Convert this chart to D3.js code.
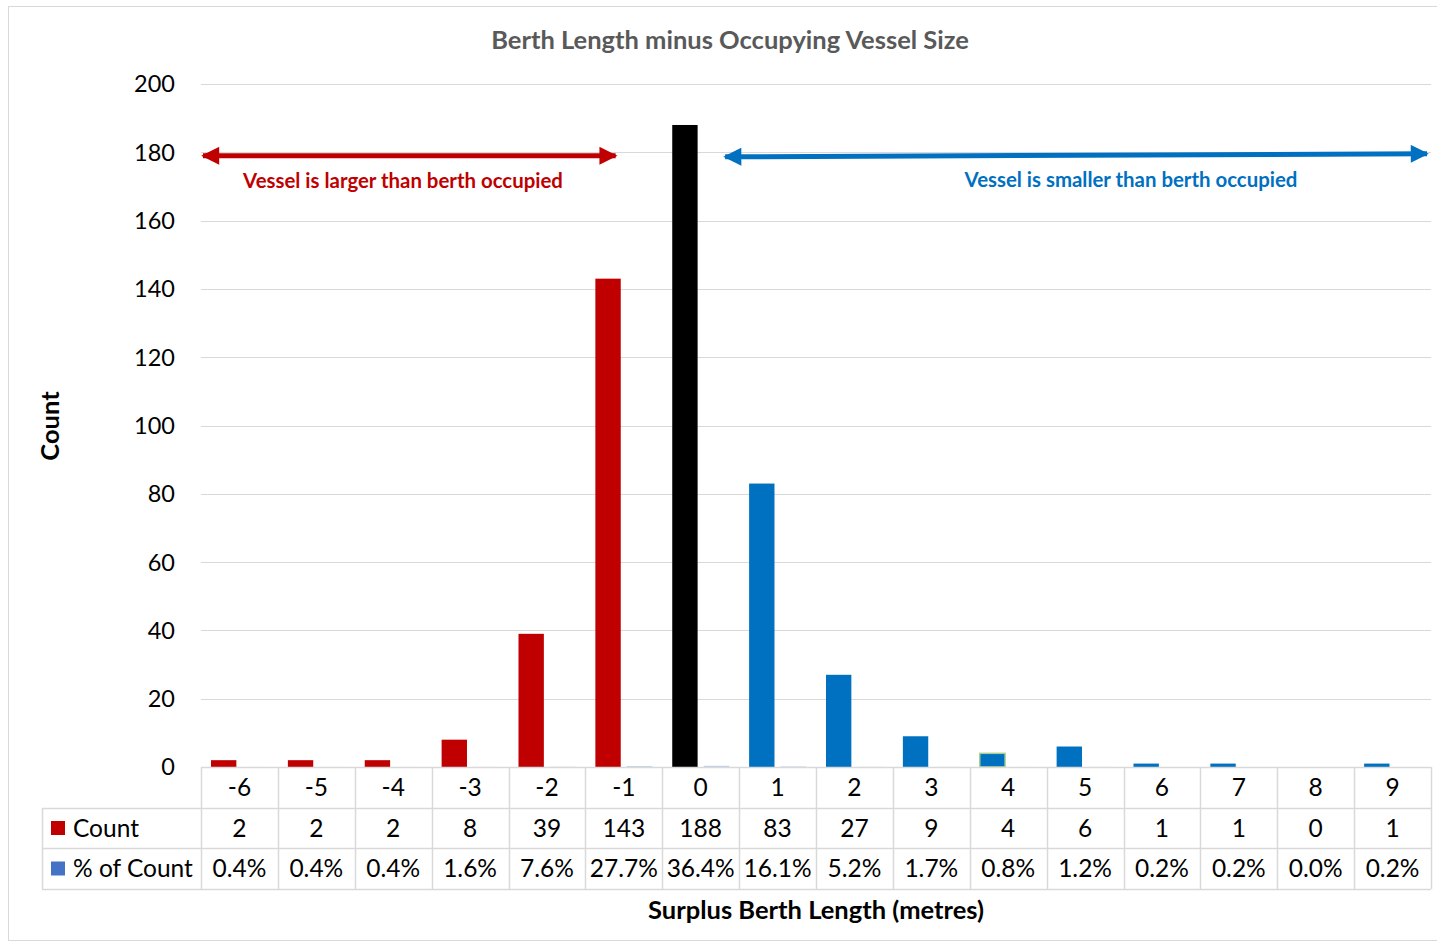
<!DOCTYPE html>
<html lang="en">
  <head>
    <meta charset="UTF-8" />
    <title>Berth Length minus Occupying Vessel Size</title>
    <script src="https://d3js.org/d3.v7.min.js" charset="utf-8"></script>
    <style>
      body { margin: 0; background: #fff; }
      text { font-family: Lato, "Open Sans", sans-serif; }
    </style>
  </head>
  <body>
    <svg class="chart"></svg>
    <script>
      let categories = [-6, -5, -4, -3, -2, -1, 0, 1, 2, 3, 4, 5, 6, 7, 8, 9];
      let counts = [2, 2, 2, 8, 39, 143, 188, 83, 27, 9, 4, 6, 1, 1, 0, 1];
      let pctLabels = ["0.4%", "0.4%", "0.4%", "1.6%", "7.6%", "27.7%", "36.4%", "16.1%",
                       "5.2%", "1.7%", "0.8%", "1.2%", "0.2%", "0.2%", "0.0%", "0.2%"];
      let pctValues = [0.004, 0.004, 0.004, 0.016, 0.076, 0.277, 0.364, 0.161,
                       0.052, 0.017, 0.008, 0.012, 0.002, 0.002, 0.0, 0.002];
      let yTicks = [0, 20, 40, 60, 80, 100, 120, 140, 160, 180, 200];

      let width = 1437;
      let height = 942;
      let plotL = 201, plotR = 1431, plotT = 84, plotB = 767;
      let rowH = 40.5;
      let grid = "#d9d9d9";

      let svg = d3.select(".chart").attr("width", width).attr("height", height);

      svg.append("rect")
        .attr("x", 8.5).attr("y", 6.5)
        .attr("width", 1440).attr("height", 934)
        .attr("fill", "none").attr("stroke", grid);

      let x = d3.scaleBand().domain(categories).range([plotL, plotR]);
      let y = d3.scaleLinear().domain([0, 200]).range([plotB, plotT]);
      let bw = x.bandwidth();

      // gridlines + tick labels
      svg.append("g").selectAll("line")
        .data(yTicks.slice(1))
        .join("line")
        .attr("x1", plotL).attr("x2", plotR)
        .attr("y1", d => Math.round(y(d)) + 0.5)
        .attr("y2", d => Math.round(y(d)) + 0.5)
        .attr("stroke", grid);

      svg.append("g").selectAll("text")
        .data(yTicks)
        .join("text")
        .attr("x", 175)
        .attr("y", d => y(d))
        .attr("dy", "0.36em")
        .attr("text-anchor", "end")
        .attr("font-size", 23.5)
        .attr("fill", "#000")
        .text(d => d);

      // count bars
      function barColor(d) {
        if (d < 0) return "#c00000";
        if (d === 0) return "#000000";
        return "#0070c0";
      }
      svg.append("g").selectAll("rect")
        .data(categories)
        .join("rect")
        .attr("x", d => x(d) + 0.13 * bw)
        .attr("width", 0.33 * bw)
        .attr("y", (d, i) => y(counts[i]))
        .attr("height", (d, i) => plotB - y(counts[i]))
        .attr("fill", barColor)
        .attr("stroke", d => (d === 4 ? "#a9d08e" : "none"))
        .attr("stroke-width", 1.5);

      // % of count bars (tiny on this scale)
      svg.append("g").selectAll("rect")
        .data(categories)
        .join("rect")
        .attr("x", d => x(d) + 0.54 * bw)
        .attr("width", 0.33 * bw)
        .attr("y", (d, i) => y(pctValues[i]))
        .attr("height", (d, i) => plotB - y(pctValues[i]))
        .attr("fill", "#4472c4")
        .attr("opacity", 0.35);

      // data table
      let table = svg.append("g");
      let rows = [plotB, plotB + rowH, plotB + 2 * rowH, plotB + 3 * rowH].map(Math.round);
      table.append("line")
        .attr("x1", plotL).attr("x2", plotR)
        .attr("y1", rows[0] + 0.5).attr("y2", rows[0] + 0.5)
        .attr("stroke", grid).attr("stroke-width", 1.5);
      rows.slice(1).forEach(r => {
        table.append("line")
          .attr("x1", 42).attr("x2", plotR)
          .attr("y1", r + 0.5).attr("y2", r + 0.5)
          .attr("stroke", grid).attr("stroke-width", 1.5);
      });
      table.append("line")
        .attr("x1", 42.5).attr("x2", 42.5)
        .attr("y1", rows[1]).attr("y2", rows[3])
        .attr("stroke", grid).attr("stroke-width", 1.5);
      table.selectAll("line.col")
        .data(categories.map(d => x(d)).concat([plotR]))
        .join("line")
        .attr("class", "col")
        .attr("x1", d => Math.round(d) + 0.5).attr("x2", d => Math.round(d) + 0.5)
        .attr("y1", rows[0]).attr("y2", rows[3])
        .attr("stroke", grid).attr("stroke-width", 1.5);

      let rowText = [categories, counts, pctLabels];
      rowText.forEach((vals, r) => {
        table.append("g").selectAll("text")
          .data(vals)
          .join("text")
          .attr("x", (d, i) => x(categories[i]) + bw / 2)
          .attr("y", (rows[r] + rows[r + 1]) / 2)
          .attr("dy", "0.36em")
          .attr("text-anchor", "middle")
          .attr("font-size", 24.5)
          .text(d => d);
      });

      // legend keys in table
      let legend = [["Count", "#c00000"], ["% of Count", "#4472c4"]];
      legend.forEach((l, i) => {
        let cy = (rows[i + 1] + rows[i + 2]) / 2;
        table.append("rect")
          .attr("x", 51).attr("y", cy - 7)
          .attr("width", 14).attr("height", 14)
          .attr("fill", l[1]);
        table.append("text")
          .attr("x", 73).attr("y", cy)
          .attr("dy", "0.36em")
          .attr("font-size", 24.5)
          .text(l[0]);
      });

      // titles
      svg.append("text")
        .attr("x", 730).attr("y", 40)
        .attr("dy", "0.36em")
        .attr("text-anchor", "middle")
        .attr("font-size", 25.5).attr("font-weight", "bold")
        .attr("fill", "#595959")
        .text("Berth Length minus Occupying Vessel Size");

      svg.append("text")
        .attr("transform", "translate(50,426) rotate(-90)")
        .attr("dy", "0.36em")
        .attr("text-anchor", "middle")
        .attr("font-size", 25.5).attr("font-weight", "bold")
        .text("Count");

      svg.append("text")
        .attr("x", 816).attr("y", 910)
        .attr("dy", "0.36em")
        .attr("text-anchor", "middle")
        .attr("font-size", 25.5).attr("font-weight", "bold")
        .text("Surplus Berth Length (metres)");

      // annotation arrows
      let defs = svg.append("defs");
      [["red", "#c00000"], ["blue", "#0070c0"]].forEach(m => {
        defs.append("marker")
          .attr("id", "arr-" + m[0])
          .attr("viewBox", "0 0 10 10")
          .attr("refX", 9).attr("refY", 5)
          .attr("markerWidth", 3.8).attr("markerHeight", 3.6)
          .attr("markerUnits", "strokeWidth")
          .attr("orient", "auto-start-reverse")
          .append("path")
          .attr("d", "M0,0 L10,5 L0,10 Z")
          .attr("fill", m[1]);
      });

      let yArrow = y(180) + 3.5;
      svg.append("line")
        .attr("x1", plotL + 2).attr("x2", x(-1) + 0.42 * bw - 2)
        .attr("y1", yArrow).attr("y2", yArrow)
        .attr("stroke", "#c00000").attr("stroke-width", 5)
        .attr("marker-start", "url(#arr-red)")
        .attr("marker-end", "url(#arr-red)");
      svg.append("text")
        .attr("x", 403).attr("y", 181)
        .attr("dy", "0.36em")
        .attr("text-anchor", "middle")
        .attr("font-size", 20.4).attr("font-weight", "bold")
        .attr("fill", "#c00000")
        .text("Vessel is larger than berth occupied");

      svg.append("line")
        .attr("x1", x(1) - 14).attr("x2", plotR - 4)
        .attr("y1", yArrow + 1).attr("y2", yArrow - 2)
        .attr("stroke", "#0070c0").attr("stroke-width", 5)
        .attr("marker-start", "url(#arr-blue)")
        .attr("marker-end", "url(#arr-blue)");
      svg.append("text")
        .attr("x", 1131).attr("y", 180)
        .attr("dy", "0.36em")
        .attr("text-anchor", "middle")
        .attr("font-size", 20.4).attr("font-weight", "bold")
        .attr("fill", "#0070c0")
        .text("Vessel is smaller than berth occupied");
    </script>
  </body>
</html>
